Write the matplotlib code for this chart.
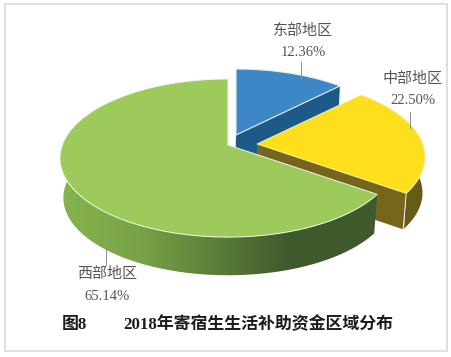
import numpy as np
import matplotlib
matplotlib.use('Agg')
import matplotlib.pyplot as plt
from matplotlib.colors import LinearSegmentedColormap
from matplotlib.patches import Polygon, Rectangle

plt.rcParams['font.family'] = ['Noto Sans CJK SC', 'DejaVu Sans']

regions = ['东部地区', '中部地区', '西部地区']
shares = [12.36, 22.50, 65.14]
share_labels = ['12.36%', '22.50%', '65.14%']
title_left = '图8'
title_right = '2018年寄宿生生活补助资金区域分布'

# pie geometry in pixels, with a small perspective
R = 165.7
RV = 76.9
K = 0.165
DEPTH = 40
SHRINK = 0.98


def project(deg, apex, depth=0, scale=1.0):
    a = np.radians(deg)
    u, v = np.sin(a), np.cos(a)
    s = scale / (1 + K * v)
    return np.column_stack([apex[0] + R * u * s, apex[1] + depth - RV * v * s])


def arc(a0, a1, apex, depth=0, scale=1.0):
    return project(np.linspace(a0, a1, 120), apex, depth, scale)


def side(a0, a1, apex, depth=DEPTH, scale=SHRINK):
    top = arc(a0, a1, apex)
    low = arc(a0, a1, apex, depth, scale)
    return np.vstack([top, low[::-1]])


fig = plt.figure(figsize=(4.52, 3.57), dpi=100)
ax = fig.add_axes([0, 0, 1, 1])

ax.add_patch(Rectangle((5, 4), 442, 347, fc='white', ec='#dfdfdf', lw=1.4))

angles = np.cumsum([0] + shares) * 3.6
blue_apex = (236, 135)
yellow_apex = (257, 144)
green_apex = (228, 145)

# blue slice
corner = project(angles[1], blue_apex)[0]
face = [blue_apex, corner, corner + [-2, DEPTH], (blue_apex[0] - 1, blue_apex[1] + DEPTH)]
ax.add_patch(Polygon(face, fc='#1d5a8a', ec='none', zorder=2))
ax.add_patch(Polygon(np.vstack([[blue_apex], arc(angles[0], angles[1], blue_apex)]),
                     fc='#3d87c6', ec='#e8f0f6', lw=0.8, zorder=3))

# yellow slice
corner = project(angles[2], yellow_apex)[0]
face = [yellow_apex, corner, corner + [-3, 36], (yellow_apex[0], yellow_apex[1] + 36)]
ax.add_patch(Polygon(side(angles[1], angles[2], yellow_apex, 36, 0.985), fc='#685a17', ec='none', zorder=4))
ax.add_patch(Polygon(face, fc='#75661c', ec='none', zorder=5))
ax.plot([corner[0], corner[0] - 3], [corner[1], corner[1] + 36], color='#f2f0dc', lw=0.7, zorder=5)
ax.add_patch(Polygon(np.vstack([[yellow_apex], arc(angles[1], angles[2], yellow_apex)]),
                     fc='#fedf1c', ec='#fff6c0', lw=0.6, zorder=6))

# green slice, the side has a gradient running left to right
green_cmap = LinearSegmentedColormap.from_list(
    'green_side', [(0, '#86b44e'), (0.25, '#78a346'), (0.5, '#5b7c38'), (0.72, '#3f5a2c'), (1, '#3e5a2c')])
poly = Polygon(side(angles[2], angles[3], green_apex), fc='none', ec='none', zorder=7)
ax.add_patch(poly)
gradient = np.linspace(0, 1, 256).reshape(1, -1)
img = ax.imshow(gradient, cmap=green_cmap, extent=(60, 378, 280, 150), aspect='auto', zorder=7)
img.set_clip_path(poly)
ax.add_patch(Polygon(np.vstack([[green_apex], arc(angles[2], angles[3], green_apex)]),
                     fc='#9ccb5b', ec='#f2f7e8', lw=0.7, zorder=8))

# leader lines
for xs, ys in [((301, 301), (62, 79)), ((410, 410), (112, 128)), ((106, 106), (247, 265))]:
    ax.plot(xs, ys, color='#8c8c8c', lw=0.7, zorder=9)

# labels
label_pos = [(303, 31, 53), (413, 79, 101), (107, 274, 296)]
for name, pct, (x, y1, y2) in zip(regions, share_labels, label_pos):
    ax.text(x, y1, name, ha='center', va='center', fontsize=10.8, color='#555555', fontweight='light', zorder=10)
    ax.text(x, y2, pct, ha='center', va='center', fontsize=10.5, color='#555555',
            family=['Liberation Serif', 'DejaVu Sans'], zorder=10)

title_fonts = ['Liberation Serif', 'Noto Sans CJK SC']
ax.text(62, 325, title_left, ha='left', va='center', fontsize=12.2, fontweight='bold', color='#1c1c1c', family=title_fonts)
ax.text(123, 325, title_right, ha='left', va='center', fontsize=12.2, fontweight='bold', color='#1c1c1c', family=title_fonts)

ax.set_xlim(0, 452)
ax.set_ylim(357, 0)
ax.axis('off')
fig.savefig('out.png', dpi=100)
